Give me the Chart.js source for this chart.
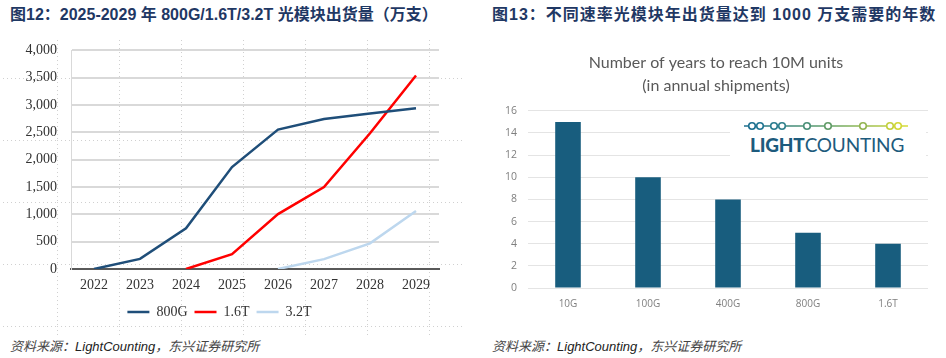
<!DOCTYPE html>
<html>
<head>
<meta charset="utf-8">
<script src="https://cdn.jsdelivr.net/npm/chart.js@4/dist/chart.umd.min.js"></script>
<style>
  html, body { margin: 0; padding: 0; background: #fff; }
  body { width: 946px; height: 358px; position: relative; overflow: hidden; }
  .title { position: absolute; top: 1px; font-family: "Liberation Sans", "Noto Sans CJK SC", sans-serif; font-weight: bold; font-size: 16px; color: #1f3864; white-space: nowrap; }
  .src { position: absolute; top: 336px; font-family: "Liberation Sans", "Noto Sans CJK SC", sans-serif; font-style: italic; font-size: 13px; color: #222; white-space: nowrap; }
  .src .cn { font-family: "Noto Sans CJK SC", sans-serif; color: #444; }
  #dots { position: absolute; left: 0; top: 40px; width: 462px; height: 296px;
    background-image: url("data:image/svg+xml;utf8,<svg xmlns='http://www.w3.org/2000/svg' width='62' height='62'><line x1='0.5' y1='0' x2='0.5' y2='62' stroke='%23d0d0d0' stroke-width='1' stroke-dasharray='1,3'/><line x1='0' y1='0.5' x2='62' y2='0.5' stroke='%23d0d0d0' stroke-width='1' stroke-dasharray='1,3'/></svg>");
    background-position: 57px 38px; }
  #c1wrap { position: absolute; left: 0; top: 28px; width: 462px; height: 301px; }
  #c2wrap { position: absolute; left: 470px; top: 36px; width: 476px; height: 284px; }
  #logo { position: absolute; left: 730px; top: 114px; width: 196px; height: 46px; background: #fff; }
  #logo svg { position: absolute; left: 0; top: 0; }
  #logo .txt { position: absolute; left: 20px; top: 19px; font-family: Lato, "Open Sans", sans-serif; font-size: 19px; line-height: 24px; color: #1d5b7d; letter-spacing: -0.2px; white-space: nowrap; }
  #logo .txt b { font-weight: 900; }
</style>
</head>
<body>
<div class="title" style="left:10px;">图12：2025-2029 年 800G/1.6T/3.2T 光模块出货量（万支）</div>
<div class="title" style="left:492px; letter-spacing: 1px;">图13：不同速率光模块年出货量达到 1000 万支需要的年数</div>
<div id="dots"></div>
<div id="c1wrap"><canvas id="c1"></canvas></div>
<div id="c2wrap"><canvas id="c2"></canvas></div>
<div id="logo">
  <svg width="196" height="20" viewBox="0 0 196 20">
    <defs>
      <linearGradient id="lg" gradientUnits="userSpaceOnUse" x1="14" y1="0" x2="178" y2="0">
        <stop offset="0" stop-color="#1c6f8f"/>
        <stop offset="0.5" stop-color="#5fa06a"/>
        <stop offset="1" stop-color="#d8dc36"/>
      </linearGradient>
    </defs>
    <line x1="14" y1="12" x2="178" y2="12" stroke="url(#lg)" stroke-width="1.6"/>
    <g fill="#fff" stroke-width="1.6">
      <circle cx="22" cy="12" r="3.3" stroke="#1c6f8f"/>
      <circle cx="30" cy="12" r="3.3" stroke="#217592"/>
      <circle cx="44" cy="12" r="3.3" stroke="#2a7c8f"/>
      <circle cx="52" cy="12" r="3.3" stroke="#30808c"/>
      <circle cx="77" cy="12" r="3.3" stroke="#4b9078"/>
      <circle cx="98" cy="12" r="3.3" stroke="#629c68"/>
      <circle cx="133" cy="12" r="3.3" stroke="#93b452"/>
      <circle cx="160" cy="12" r="3.3" stroke="#c3d03e"/>
      <circle cx="168" cy="12" r="3.3" stroke="#d3d837"/>
    </g>
  </svg>
  <div class="txt"><b>LIGHT</b>COUNTING</div>
</div>
<div class="src" style="left:10px;"><span class="cn">资料来源：</span>LightCounting<span class="cn">，东兴证券研究所</span></div>
<div class="src" style="left:492px;"><span class="cn">资料来源：</span>LightCounting<span class="cn">，东兴证券研究所</span></div>

<script>
// ---- Left chart data ----
const years = ["2022", "2023", "2024", "2025", "2026", "2027", "2028", "2029"];
const s800G = [0, 185, 745, 1865, 2550, 2745, 2845, 2940];
const s16T  = [null, null, 0, 270, 1005, 1500, 2485, 3540];
const s32T  = [null, null, null, null, 0, 180, 470, 1060];
const seriesNames = ["800G", "1.6T", "3.2T"];

// ---- Right chart data ----
const speeds = ["10G", "100G", "400G", "800G", "1.6T"];
const yearsToReach = [15, 10, 8, 5, 4];
const rightTitle = ["Number of years to reach 10M units", "(in annual shipments)"];

const serif = "'Liberation Serif', 'Times New Roman', serif";

new Chart(document.getElementById('c1'), {
  type: 'line',
  data: {
    labels: years,
    datasets: [
      { label: seriesNames[0], data: s800G, borderColor: '#1f4e79', backgroundColor: '#1f4e79', borderWidth: 2.5, pointRadius: 0, tension: 0 },
      { label: seriesNames[1], data: s16T, borderColor: '#ff0000', backgroundColor: '#ff0000', borderWidth: 2.5, pointRadius: 0, tension: 0 },
      { label: seriesNames[2], data: s32T, borderColor: '#bdd7ee', backgroundColor: '#bdd7ee', borderWidth: 2.5, pointRadius: 0, tension: 0 }
    ]
  },
  options: {
    responsive: true, maintainAspectRatio: false, animation: false,
    layout: { padding: { left: 0, right: 23, top: 0, bottom: 0 } },
    plugins: {
      legend: {
        position: 'bottom',
        labels: { usePointStyle: true, pointStyle: 'line', pointStyleWidth: 22, boxHeight: 13, padding: 7,
          font: { family: serif, size: 14 }, color: '#333' }
      },
      tooltip: { enabled: false }
    },
    scales: {
      x: {
        offset: true,
        grid: { display: false, drawTicks: false },
        border: { display: true, color: '#595959', width: 2 },
        ticks: { font: { family: serif, size: 14 }, color: '#333', padding: 8, maxRotation: 0 },
        afterFit: s => { s.height = 29; }
      },
      y: {
        min: 0, max: 4000,
        ticks: { stepSize: 500, font: { family: serif, size: 14 }, color: '#333', padding: 14,
          callback: v => v.toLocaleString('en-US') },
        grid: { color: '#d9d9d9', lineWidth: 2, drawTicks: false },
        border: { display: true, color: '#d9d9d9', width: 1 },
        afterFit: s => { s.width = 71; }
      }
    }
  }
});

new Chart(document.getElementById('c2'), {
  type: 'bar',
  data: {
    labels: speeds,
    datasets: [{ data: yearsToReach, backgroundColor: '#185d7e', barPercentage: 0.32, categoryPercentage: 1 }]
  },
  options: {
    responsive: true, maintainAspectRatio: false, animation: false,
    layout: { padding: { left: 34, right: 18, top: 0, bottom: 0 } },
    plugins: {
      legend: { display: false },
      tooltip: { enabled: false },
      title: { display: true, text: rightTitle, color: '#595959',
        font: { family: "Lato, 'Open Sans', sans-serif", size: 16, weight: 'normal', lineHeight: 1.4 },
        padding: { top: 16, bottom: 14 } }
    },
    scales: {
      x: {
        grid: { display: false, drawTicks: false },
        border: { display: false },
        ticks: { font: { family: "'Open Sans', sans-serif", size: 10 }, color: '#7f7f7f', padding: 10 },
        afterFit: s => { s.height = 32; }
      },
      y: {
        min: 0, max: 16,
        ticks: { stepSize: 2, font: { family: "'Open Sans', sans-serif", size: 10.5 }, color: '#7f7f7f', padding: 11 },
        grid: { color: '#e4e4e4', lineWidth: 1, drawTicks: false },
        border: { display: false },
        afterFit: s => { s.width = 24; }
      }
    }
  }
});
</script>
</body>
</html>
